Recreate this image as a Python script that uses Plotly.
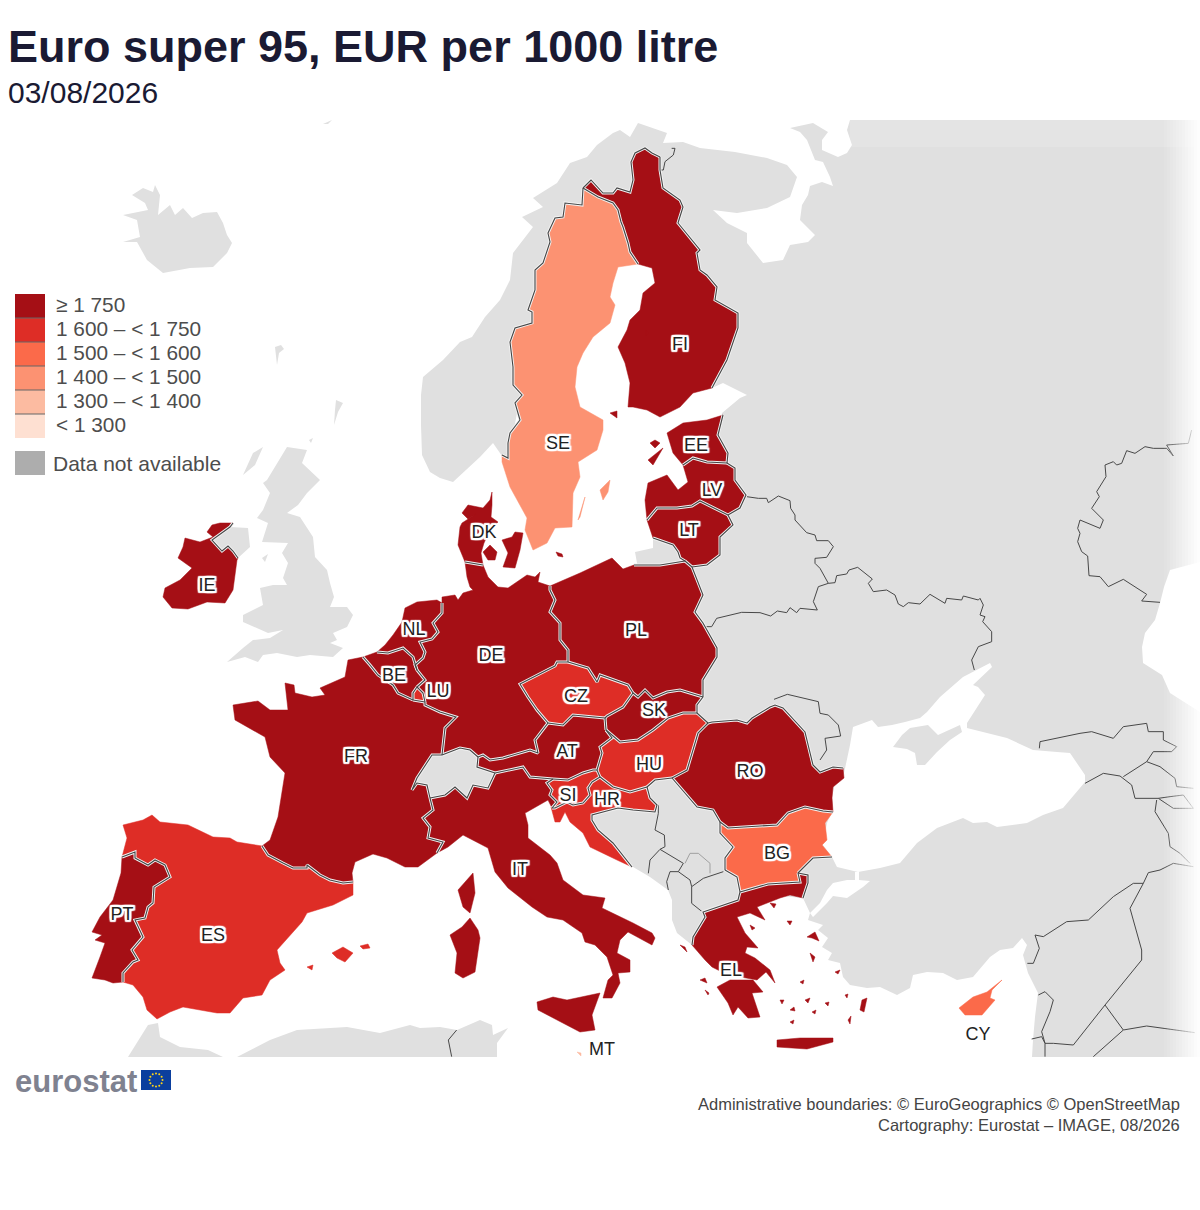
# Euro super 95 price map, drawn on plain axes because no basemap can be fetched here
import math
import plotly.graph_objects as go

# legend classes
CLASS_LABELS = ['≥ 1 750', '1 600 – < 1 750', '1 500 – < 1 600', '1 400 – < 1 500', '1 300 – < 1 400', '< 1 300']
CLASS_COLORS = ['#A50F15', '#DE2D26', '#FB6A4A', '#FC9272', '#FCBBA1', '#FEE0D2']
NO_DATA_LABEL = 'Data not available'

# price class of each country, index into CLASS_LABELS
COUNTRY_CLASS = {
    'FI': 0, 'SE': 3, 'EE': 0, 'LV': 0, 'LT': 0, 'PL': 0, 'DE': 0, 'DK': 0, 'NL': 0, 'BE': 0,
    'LU': 1, 'FR': 0, 'IE': 0, 'ES': 1, 'PT': 0, 'IT': 0, 'AT': 0, 'CZ': 1, 'SK': 0, 'HU': 1,
    'SI': 1, 'HR': 1, 'RO': 0, 'BG': 2, 'EL': 0, 'CY': 2, 'MT': 4,
}

# country code labels
LABEL_CODES = ['FI', 'SE', 'EE', 'LV', 'LT', 'DK', 'IE', 'NL', 'BE', 'LU', 'DE', 'PL', 'CZ', 'SK', 'FR', 'AT',
               'HU', 'RO', 'SI', 'HR', 'BG', 'IT', 'PT', 'ES', 'EL', 'CY', 'MT']
LABEL_X = [680, 558, 696, 712, 689, 484, 207, 414, 394, 438, 491, 636, 576, 654, 356, 567,
           649, 750, 568, 607, 777, 520, 122, 213, 731, 978, 602]
LABEL_Y = [345, 444, 446, 491, 531, 533, 586, 630, 676, 692, 656, 631, 697, 711, 757, 752,
           765, 772, 796, 800, 854, 870, 915, 936, 971, 1035, 1050]

B_SE_NO = [(502, 455), (508, 458), (508, 443), (510, 433), (520, 420), (515, 403), (522, 395), (513, 385), (513, 367),
           (510, 342), (515, 328), (532, 323), (532, 312), (528, 310), (535, 290), (535, 270), (543, 263), (550, 242),
           (548, 233), (555, 218), (563, 217), (565, 203), (582, 205), (583, 188)]
B_SE_FI = [(583, 188), (598, 197), (613, 203), (618, 210), (621, 222), (623, 227), (628, 243), (630, 252), (638, 264)]
B_FI_NO = [(583, 188), (591, 180), (603, 193), (613, 193), (617, 188), (630, 192), (633, 180), (631, 162), (635, 153),
           (645, 148), (652, 153), (660, 157)]
B_FI_RU = [(660, 157), (660, 170), (663, 188), (680, 200), (683, 207), (678, 223), (700, 250), (697, 253), (700, 270),
           (707, 275), (717, 287), (715, 300), (738, 313), (738, 328), (727, 360), (712, 388)]
B_EE_RU = [(723, 415), (718, 435), (728, 453), (727, 463)]
B_EE_LV = [(727, 463), (707, 462), (693, 458), (683, 465)]
B_LV_EAST = [(727, 463), (735, 468), (735, 480), (746, 495), (740, 508), (728, 515)]
B_LV_LT = [(728, 515), (722, 512), (700, 501), (692, 506), (677, 508), (657, 508), (647, 520)]
B_LT_BY = [(728, 515), (733, 525), (720, 537), (720, 555), (707, 565), (692, 567)]
B_LT_RU = [(653, 538), (673, 545), (678, 552), (680, 558), (685, 561)]
B_LT_PL = [(685, 561), (692, 567)]
B_PL_RU = [(634, 565), (660, 565), (685, 561)]
B_PL_EAST = [(692, 567), (703, 595), (695, 612), (703, 623), (717, 648), (717, 657), (703, 680), (703, 697)]
B_PL_SK = [(703, 697), (680, 690), (667, 692), (653, 698), (645, 690), (638, 697), (633, 693)]
B_PL_CZ = [(633, 693), (628, 685), (600, 675), (597, 682), (588, 668), (568, 662)]
B_DE_PL = [(550, 586), (550, 590), (555, 600), (550, 612), (560, 623), (560, 640), (568, 650), (568, 662)]
B_DE_CZ = [(568, 662), (557, 662), (555, 666), (525, 682), (520, 684), (528, 697), (537, 710), (548, 723)]
B_CZ_SK = [(633, 693), (623, 707), (607, 716), (605, 718)]
B_CZ_AT = [(605, 718), (573, 715), (563, 725), (548, 723)]
B_DE_AT = [(548, 723), (535, 740), (538, 753), (530, 750), (503, 758), (490, 760), (483, 755), (478, 757)]
B_DE_CH = [(478, 757), (470, 750), (460, 748), (450, 752), (442, 755)]
B_FR_DE = [(442, 755), (445, 728), (456, 717), (440, 712), (425, 705), (425, 702)]
B_FR_CH = [(442, 755), (432, 755), (417, 778), (412, 790), (417, 783), (427, 785), (430, 798)]
B_FR_IT = [(430, 798), (433, 810), (423, 818), (430, 827), (428, 838), (443, 842), (437, 853)]
B_IT_CH = [(430, 798), (445, 795), (455, 787), (467, 798), (473, 785), (488, 788), (495, 773)]
B_CH_AT = [(478, 757), (477, 767), (495, 773)]
B_IT_AT = [(495, 773), (523, 767), (530, 777), (553, 779)]
B_IT_SI = [(553, 779), (547, 783), (552, 790), (550, 795), (557, 802), (552, 808)]
B_AT_SI = [(553, 779), (568, 780), (583, 773), (593, 770), (597, 770)]
B_AT_HU = [(597, 770), (602, 753), (600, 747), (612, 738), (606, 730)]
B_AT_SK = [(606, 730), (605, 718)]
B_SK_HU = [(606, 730), (620, 742), (638, 740), (653, 730), (668, 718), (683, 713), (697, 713)]
B_SK_UA = [(697, 713), (697, 705), (703, 697)]
B_HU_UA = [(697, 713), (708, 723)]
B_HU_RO = [(708, 723), (698, 733), (687, 770), (672, 778)]
B_HU_RS = [(672, 778), (655, 780), (647, 787)]
B_HU_HR = [(647, 787), (630, 792), (613, 787), (600, 777)]
B_SI_HU = [(597, 770), (600, 777)]
B_SI_HR = [(600, 777), (592, 782), (588, 788), (590, 795), (583, 803), (573, 805), (567, 802), (555, 808), (552, 808)]
B_HR_BA = [(647, 787), (650, 798), (657, 805), (655, 812), (633, 810), (618, 808), (603, 812), (592, 815), (592, 820),
           (598, 830), (613, 843), (627, 860), (632, 867)]
B_RO_NORTH = [(708, 723), (712, 722), (737, 720), (747, 723), (752, 718), (770, 707), (775, 705), (783, 708), (805, 732),
              (813, 765), (820, 772), (833, 767), (843, 768)]
B_RO_RS = [(672, 778), (680, 787), (697, 807), (713, 810), (720, 822)]
B_RO_BG = [(720, 822), (728, 828), (777, 825), (788, 813), (805, 807), (823, 811), (833, 812)]
B_BG_RS = [(720, 822), (720, 833), (733, 847), (725, 858), (725, 870)]
B_BG_MK = [(725, 870), (737, 877), (740, 892)]
B_BG_EL = [(740, 892), (768, 884), (800, 882), (798, 873)]
B_BG_TR = [(798, 873), (813, 858), (832, 857)]
B_EL_TR = [(798, 873), (808, 875), (808, 883), (803, 898)]
B_EL_WEST = [(740, 892), (738, 900), (703, 912), (705, 917), (693, 937), (692, 945)]
B_IE_UK = [(238, 558), (233, 551), (228, 546), (222, 551), (212, 540), (230, 527), (233, 523)]
B_NL_DE = [(442, 603), (442, 613), (433, 623), (438, 632), (432, 639), (420, 642), (425, 652), (423, 658), (415, 665), (417, 670)]
B_NL_BE = [(377, 652), (388, 653), (403, 648), (413, 657), (417, 670)]
B_BE_DE = [(417, 670), (422, 677), (425, 680), (417, 687)]
B_BE_LU = [(417, 687), (413, 693), (413, 700)]
B_LU_FR = [(425, 702), (413, 700)]
B_LU_DE = [(425, 702), (423, 693), (417, 687)]
B_BE_FR = [(413, 700), (398, 693), (393, 685), (378, 675), (370, 665), (363, 657)]
B_DE_DK = [(465, 562), (483, 565)]
B_ES_FR = [(262, 846), (268, 855), (283, 863), (293, 868), (307, 868), (307, 865), (320, 875), (330, 880), (343, 883), (353, 882)]
B_ES_PT = [(123, 982), (123, 973), (133, 962), (138, 960), (132, 950), (143, 937), (135, 920), (145, 918), (148, 907),
           (153, 903), (154, 887), (170, 877), (165, 865), (155, 860), (148, 865), (135, 858), (135, 852), (122, 857)]

# coasts of the countries with data
SE_COAST = [(638, 264), (618, 267), (613, 283), (610, 297), (615, 305), (610, 323), (593, 337), (583, 353), (577, 367),
            (575, 387), (580, 407), (603, 420), (603, 430), (597, 450), (578, 462), (580, 477), (573, 493), (572, 527),
            (555, 528), (547, 543), (533, 550), (525, 530), (527, 518), (510, 487), (502, 462), (502, 455)]
FI_COAST = [(712, 388), (693, 393), (680, 407), (660, 417), (647, 410), (633, 407), (628, 407), (630, 383), (625, 363),
            (618, 347), (627, 330), (630, 320), (640, 310), (643, 293), (655, 283), (652, 268), (638, 264)]
EE_COAST = [(683, 465), (673, 453), (667, 433), (683, 423), (707, 420), (723, 415)]
LV_COAST = [(647, 520), (645, 500), (648, 483), (667, 475), (678, 490), (688, 482), (683, 465)]
LT_COAST = [(647, 520), (653, 538)]
PL_COAST = [(550, 586), (580, 573), (612, 558), (623, 569), (634, 565)]
DE_COAST_W = [(442, 603), (442, 597), (455, 595), (458, 600), (463, 593), (473, 590), (480, 597), (470, 587), (467, 577), (465, 562)]
DE_COAST_E = [(483, 565), (488, 577), (498, 587), (508, 588), (527, 575), (535, 577), (540, 572), (538, 582), (550, 586)]
NL_COAST = [(442, 603), (437, 600), (417, 602), (405, 608), (402, 622), (393, 635), (385, 645), (377, 652)]
BE_COAST = [(363, 657), (377, 652)]
FR_COAST_N = [(363, 657), (348, 660), (345, 677), (320, 688), (325, 695), (312, 697), (295, 693), (294, 685), (285, 683),
              (288, 710), (270, 710), (258, 701), (233, 705), (235, 720), (265, 737), (270, 757), (285, 773), (282, 793),
              (278, 817), (270, 840), (262, 846)]
FR_COAST_S = [(353, 882), (352, 873), (355, 862), (373, 854), (387, 858), (405, 867), (418, 867), (437, 853)]
ES_COAST_N = [(122, 857), (127, 838), (123, 825), (143, 820), (152, 815), (160, 822), (188, 825), (213, 837), (230, 838),
              (237, 842), (262, 846)]
ES_COAST_S = [(353, 882), (353, 895), (333, 905), (307, 913), (302, 922), (277, 950), (280, 963), (285, 970), (270, 980),
              (262, 995), (243, 998), (230, 1013), (217, 1013), (183, 1007), (170, 1012), (157, 1019), (147, 1010),
              (143, 997), (133, 985), (123, 982)]
PT_COAST = [(122, 857), (121, 873), (113, 900), (100, 917), (92, 932), (102, 935), (95, 940), (105, 943), (100, 957),
            (92, 978), (105, 980), (113, 983), (123, 982)]
IT_COAST = [(552, 808), (548, 800), (527, 812), (525, 813), (528, 825), (528, 838), (550, 855), (557, 863), (563, 880),
            (583, 895), (605, 898), (602, 908), (633, 923), (652, 933), (655, 938), (652, 945), (628, 932), (620, 940),
            (617, 953), (630, 960), (630, 972), (618, 973), (620, 983), (612, 998), (603, 998), (608, 980), (613, 975),
            (607, 957), (595, 945), (585, 942), (582, 933), (563, 920), (547, 917), (532, 907), (508, 888), (495, 872),
            (488, 848), (463, 835), (448, 847), (437, 853)]
HR_COAST = [(632, 867), (617, 860), (603, 853), (590, 847), (583, 833), (570, 822), (565, 812), (560, 822), (555, 822),
            (551, 807), (552, 808)]
RO_COAST = [(843, 768), (844, 778), (833, 787), (832, 798), (833, 812)]
BG_COAST = [(833, 812), (825, 823), (827, 840), (822, 845), (832, 857)]
EL_COAST = [(803, 898), (790, 895), (780, 898), (757, 907), (765, 920), (750, 913), (737, 917), (745, 933), (758, 948),
            (747, 947), (745, 953), (755, 958), (770, 970), (775, 983), (766, 972), (757, 980), (730, 975), (722, 972),
            (712, 967), (705, 960), (692, 945)]
IE_COAST = [(233, 523), (220, 523), (212, 525), (207, 532), (213, 537), (200, 542), (185, 538), (183, 547), (178, 558),
            (192, 568), (180, 580), (165, 588), (163, 597), (172, 608), (188, 609), (207, 602), (225, 603), (233, 590),
            (237, 560), (238, 558)]

# polygons that belong to one country only
PELOPONNESE = [(717, 987), (730, 980), (753, 980), (763, 992), (752, 993), (760, 1017), (748, 1018), (738, 1007), (733, 1015), (728, 1003)]
GREEK_ISLANDS = [
    [(777, 1040), (800, 1038), (822, 1038), (833, 1038), (833, 1042), (807, 1049), (777, 1047)],
    [(807, 937), (815, 932), (819, 941), (812, 938)], [(810, 953), (815, 957), (813, 962)],
    [(862, 1000), (867, 998), (864, 1012), (860, 1010)], [(700, 980), (705, 978), (707, 983)],
    [(705, 990), (709, 993), (708, 995)], [(680, 945), (685, 947), (687, 952)], [(770, 903), (776, 904), (774, 908)],
    [(787, 921), (792, 921), (790, 925)], [(750, 925), (755, 928), (752, 930)], [(790, 1010), (794, 1007), (795, 1011)],
    [(805, 1000), (810, 998), (808, 1003)], [(825, 1003), (829, 1002), (828, 1006)], [(780, 1000), (784, 1000), (782, 1004)],
    [(800, 982), (804, 980), (803, 984)], [(835, 972), (840, 970), (838, 974)], [(845, 995), (848, 994), (847, 998)],
    [(790, 1022), (794, 1020), (793, 1024)], [(812, 1012), (816, 1010), (815, 1014)], [(848, 1020), (851, 1016), (850, 1024)],
]
DK_ISLANDS = [
    [(483, 552), (490, 545), (497, 552), (495, 560), (488, 560)],
    [(502, 540), (512, 537), (515, 532), (523, 533), (520, 550), (515, 568), (503, 567), (508, 553)],
    [(556, 552), (562, 554), (563, 557), (558, 556)],
]
DK_JUTLAND = [(492, 492), (490, 500), (483, 508), (475, 506), (468, 505), (462, 513), (468, 519), (476, 514), (462, 523),
              (460, 527), (458, 545), (465, 562), (483, 565), (481, 553), (484, 543), (490, 530), (498, 522), (491, 517), (492, 505)]
SE_ISLANDS = [[(600, 490), (610, 480), (608, 492), (603, 500)], [(578, 520), (585, 497), (580, 517)]]
FI_ISLANDS = [[(610, 413), (617, 411), (617, 418)], [(646, 330), (649, 333), (646, 336)]]
EE_ISLANDS = [[(648, 460), (663, 448), (653, 465)], [(650, 443), (655, 440), (660, 443), (655, 448)]]
ES_ISLANDS = [[(332, 953), (343, 947), (353, 953), (345, 962), (337, 958)], [(360, 946), (368, 944), (370, 948), (363, 949)],
              [(307, 967), (313, 965), (312, 970)]]
IT_ISLANDS = [
    [(537, 1002), (553, 997), (567, 1000), (600, 993), (592, 1015), (595, 1030), (580, 1032), (553, 1018), (538, 1010)],
    [(470, 918), (478, 930), (480, 938), (475, 972), (463, 978), (455, 973), (457, 953), (450, 935), (462, 927)],
    [(530, 900), (535, 901), (533, 904)],
]
CORSICA = [(473, 873), (475, 893), (470, 913), (463, 907), (458, 890), (465, 882)]
CY_SHAPE = [(1002, 980), (992, 990), (990, 998), (995, 1000), (982, 1015), (965, 1015), (959, 1008), (973, 997), (987, 992)]
MT_SHAPE = [(577, 1052), (581, 1053), (581, 1056)]

# countries outside the data: grey land
LAND_MAIN = [
    # Norway, Kola and the White Sea
    (440, 478), (430, 472), (422, 455), (421, 425), (421, 395), (423, 377), (443, 360), (460, 342), (472, 337), (485, 317),
    (500, 300), (510, 280), (513, 253), (533, 227), (522, 217), (543, 207), (533, 198), (557, 183), (570, 163), (587, 157),
    (597, 145), (613, 133), (620, 130), (630, 137), (638, 123), (653, 128), (667, 133), (663, 143), (683, 142), (700, 148),
    (735, 152), (767, 158), (787, 165), (797, 177), (790, 197), (767, 208), (737, 213), (713, 210), (727, 223), (747, 233),
    (747, 243), (763, 263), (783, 260), (790, 245), (808, 242), (815, 235), (800, 220), (802, 205), (808, 195), (810, 186),
    (822, 182), (833, 186), (830, 177), (823, 162), (815, 160), (807, 140), (800, 132), (790, 128), (813, 123), (828, 132),
    (822, 140), (822, 150), (838, 157), (847, 153), (852, 145), (847, 130), (850, 120),
    # east side with the Caspian
    (1200, 120), (1200, 562), (1170, 570), (1164, 587), (1160, 603), (1155, 620), (1145, 633), (1142, 647), (1143, 663),
    (1162, 675), (1170, 693), (1200, 712), (1200, 1057), (1032, 1057),
    # Levant and Turkey
    (1033, 1040), (1035, 1017), (1038, 993), (1028, 973), (1023, 955), (1027, 945), (1022, 938), (1013, 948), (1000, 950),
    (990, 957), (973, 977), (957, 980), (943, 973), (927, 972), (913, 975), (910, 988), (897, 995), (880, 987), (867, 988),
    (862, 987), (850, 985), (843, 977), (840, 963), (828, 960), (832, 953), (822, 947), (828, 938), (818, 930), (823, 925),
    (808, 920), (810, 913), (803, 898),
    # inside Greece, then the Albanian and Montenegrin coast
    (770, 895), (710, 930), (692, 945), (677, 933), (672, 920), (672, 900), (668, 890), (650, 877), (633, 867),
    # inside the member states, so covered by them
    (628, 864), (612, 852), (598, 842), (590, 830), (588, 815), (600, 800), (650, 760), (680, 680), (650, 600),
    (637, 563), (635, 552), (653, 548), (653, 538), (660, 530), (700, 530), (725, 490), (715, 450), (722, 413),
    (740, 398), (747, 395), (723, 383), (712, 388), (700, 380), (700, 320), (640, 190), (600, 200), (540, 300),
    (508, 458), (502, 456), (493, 443), (480, 457), (453, 482),
]
SEA_BLACK = [(843, 778), (850, 745), (853, 727), (872, 720), (878, 727), (892, 725), (905, 722), (920, 718), (927, 712),
             (940, 697), (963, 677), (990, 663), (992, 667), (973, 685), (978, 687), (985, 695), (967, 723), (967, 728),
             (1007, 738), (1033, 750), (1057, 752), (1070, 753), (1085, 775), (1085, 782), (1063, 808), (1043, 815),
             (1027, 823), (997, 827), (987, 822), (973, 823), (963, 818), (937, 828), (917, 843), (900, 863), (880, 868),
             (858, 872), (837, 867), (832, 857), (823, 845), (827, 823), (833, 810), (832, 797), (835, 783)]
SEA_MARMARA = [(855, 872), (859, 872), (859, 880), (870, 881), (863, 887), (857, 891), (847, 898), (833, 896), (827, 903),
               (813, 917), (810, 913), (820, 903), (827, 890), (833, 883), (847, 880), (855, 880)]
CRIMEA = [(893, 747), (907, 749), (915, 753), (917, 765), (925, 765), (937, 752), (950, 740), (962, 732), (960, 725),
          (938, 735), (928, 725), (910, 728), (902, 735)]
ICELAND = [(132, 195), (143, 188), (153, 192), (155, 185), (160, 195), (158, 215), (170, 205), (175, 215), (183, 208),
           (192, 218), (203, 213), (217, 212), (223, 223), (227, 235), (232, 243), (227, 253), (213, 267), (190, 268),
           (163, 273), (147, 260), (137, 242), (123, 242), (140, 237), (137, 220), (123, 215), (148, 210), (145, 203)]
BRITAIN = [(267, 480), (287, 447), (307, 450), (302, 463), (320, 480), (307, 493), (298, 505), (287, 513), (300, 517),
           (313, 537), (315, 557), (327, 570), (330, 583), (334, 597), (330, 607), (347, 607), (353, 615), (347, 627),
           (333, 633), (337, 640), (330, 643), (343, 648), (333, 657), (310, 655), (297, 657), (277, 653), (263, 655),
           (258, 662), (245, 657), (227, 662), (243, 648), (253, 640), (270, 638), (283, 630), (268, 633), (243, 622),
           (243, 615), (263, 605), (260, 588), (273, 585), (287, 585), (283, 578), (288, 563), (282, 553), (288, 543),
           (262, 542), (268, 523), (257, 518), (263, 510), (270, 493), (263, 483)]
NORTHERN_IRELAND = [(230, 527), (248, 528), (250, 547), (238, 558), (233, 551), (228, 546), (222, 551), (212, 540)]
SMALL_LAND = [
    [(275, 347), (281, 345), (284, 349), (279, 353), (277, 365)], [(336, 400), (343, 403), (338, 412), (334, 425), (335, 410)],
    [(253, 453), (263, 447), (255, 465), (243, 475)], [(323, 124), (332, 120), (328, 124)], [(262, 558), (268, 554), (265, 562)],
    [(320, 873), (328, 873), (327, 878), (321, 877)], [(309, 440), (313, 438), (311, 443)],
]
AFRICA_W = [(128, 1057), (148, 1025), (158, 1023), (160, 1037), (180, 1047), (208, 1050), (223, 1057)]
AFRICA_E = [(237, 1057), (270, 1040), (297, 1030), (347, 1027), (380, 1033), (410, 1025), (420, 1028), (440, 1027), (457, 1030),
            (480, 1020), (492, 1025), (493, 1035), (508, 1028), (497, 1043), (497, 1057)]

# borders between countries without data, as traced from 3x crops: (crop x, crop y, points)
OUTSIDE_LINES = [
    (400, 120, [(780, 150), (790, 150), (795, 125), (820, 105), (825, 85), (815, 85)]),
    (700, 430, [(140, 200), (175, 205), (200, 205), (205, 218), (235, 198), (270, 212), (272, 235), (285, 255), (285, 270), (320, 308),
                (345, 315), (350, 332), (385, 332), (400, 350), (380, 382), (345, 385), (345, 400), (360, 415), (385, 460)]),
    (700, 430, [(385, 460), (405, 458), (410, 437), (440, 432), (447, 420), (473, 412), (517, 447), (505, 460), (520, 485), (560, 480),
                (585, 495), (595, 522), (610, 530), (625, 518), (660, 522), (690, 493), (735, 520), (740, 505), (785, 510), (790, 498),
                (835, 510), (840, 505), (850, 525), (840, 555), (855, 560), (848, 575), (875, 605), (875, 635), (835, 650), (815, 690), (823, 720)]),
    (700, 430, [(385, 460), (355, 470), (340, 515), (352, 540), (300, 535), (290, 548), (270, 533), (260, 548), (232, 543), (212, 558),
                (180, 548), (125, 547), (50, 565), (35, 590), (15, 590)]),
    (700, 430, [(1475, 0), (1465, 40), (1400, 45), (1420, 78), (1400, 55), (1360, 55), (1335, 50), (1305, 70), (1280, 62), (1265, 100),
                (1250, 105), (1240, 95), (1215, 105), (1218, 140), (1190, 185), (1198, 200), (1175, 235), (1210, 270), (1200, 295), (1140, 270),
                (1133, 295), (1140, 310), (1133, 335), (1145, 365), (1163, 378), (1167, 437), (1200, 440), (1225, 470), (1270, 448), (1340, 493),
                (1325, 513), (1380, 517)]),
    (700, 430, [(222, 808), (262, 793), (355, 815), (360, 850), (385, 855), (415, 885), (422, 918), (375, 925), (380, 960), (360, 990)]),
    (680, 690, [(1078, 175), (1080, 155), (1200, 130), (1235, 125), (1300, 145), (1330, 110), (1400, 100), (1405, 125), (1450, 125), (1450, 150),
                (1490, 170), (1475, 185), (1420, 185), (1400, 215), (1330, 260)]),
    (680, 690, [(1215, 280), (1270, 250), (1320, 258), (1355, 285), (1365, 325), (1435, 325)]),
    (680, 690, [(1400, 215), (1440, 230), (1485, 265), (1490, 290), (1540, 295)]),
    (680, 690, [(1435, 325), (1480, 355), (1540, 355), (1510, 315), (1470, 320), (1435, 325)]),
    (680, 690, [(1430, 330), (1425, 365), (1465, 430), (1470, 470), (1500, 490), (1530, 520)]),
    (680, 690, [(1540, 530), (1480, 520), (1440, 540), (1405, 548), (1390, 580), (1360, 580), (1300, 620), (1225, 690), (1160, 695), (1090, 740),
                (1065, 735), (1078, 775), (1060, 820), (1042, 820)]),
    (680, 690, [(1390, 580), (1350, 655), (1385, 780), (1385, 810), (1275, 945), (1180, 1065), (1120, 1060), (1095, 1060), (1085, 1025), (1110, 965),
                (1120, 930), (1095, 905), (1075, 915)]),
    (680, 690, [(1275, 945), (1330, 1020), (1400, 1008), (1545, 1028)]),
    (680, 690, [(1330, 1020), (1240, 1100)]),
    (680, 690, [(1055, 1047), (1085, 1040), (1095, 1060), (1095, 1100)]),
    (420, 690, [(680, 295), (695, 340), (715, 345), (715, 370), (705, 420), (733, 435), (735, 470), (720, 478)]),
    (420, 690, [(720, 478), (690, 510), (685, 550)]),
    (420, 690, [(720, 478), (790, 520), (775, 545), (750, 545), (740, 575), (745, 600)]),
    (420, 690, [(775, 545), (810, 570), (815, 590), (850, 565), (910, 545)]),
    (420, 690, [(815, 590), (815, 640), (850, 668)]),
    (420, 690, [(110, 1020), (85, 1050), (95, 1100)]),
]
KOSOVO_LINE = (420, 690, [(795, 520), (810, 490), (835, 490), (870, 520), (870, 550)])


def rev(seg):
    return seg[::-1]


def flat(polys):
    xs, ys = [], []
    for poly in polys:
        xs += [p[0] for p in poly] + [poly[0][0], None]
        ys += [p[1] for p in poly] + [poly[0][1], None]
    return xs, ys


def from_crop(item):
    ox, oy, pts = item
    return [(ox + p[0] / 3, oy + p[1] / 3) for p in pts]


SWITZERLAND = B_FR_CH + B_IT_CH + rev(B_CH_AT) + rev(B_DE_CH)

COUNTRY_SHAPES = {
    'FI': [B_FI_NO + B_FI_RU + FI_COAST + rev(B_SE_FI)] + FI_ISLANDS,
    'SE': [B_SE_FI + SE_COAST + B_SE_NO] + SE_ISLANDS,
    'EE': [EE_COAST + B_EE_RU + B_EE_LV] + EE_ISLANDS,
    'LV': [LV_COAST + rev(B_EE_LV) + B_LV_EAST + B_LV_LT],
    'LT': [LT_COAST + B_LT_RU + B_LT_PL + rev(B_LT_BY) + B_LV_LT],
    'PL': [PL_COAST + B_PL_RU + B_LT_PL + B_PL_EAST + B_PL_SK + B_PL_CZ + rev(B_DE_PL)],
    'DE': [DE_COAST_W + B_DE_DK + DE_COAST_E + B_DE_PL + B_DE_CZ + B_DE_AT + B_DE_CH + B_FR_DE + B_LU_DE + rev(B_BE_DE) + rev(B_NL_DE)],
    'DK': [DK_JUTLAND] + DK_ISLANDS,
    'NL': [NL_COAST + B_NL_BE + rev(B_NL_DE)],
    'BE': [BE_COAST + B_NL_BE + B_BE_DE + B_BE_LU + B_BE_FR],
    'LU': [B_BE_LU + rev(B_LU_FR) + B_LU_DE],
    'FR': [FR_COAST_N + B_ES_FR + FR_COAST_S + rev(B_FR_IT) + rev(B_FR_CH) + B_FR_DE + B_LU_FR + B_BE_FR, CORSICA],
    'IE': [IE_COAST + B_IE_UK],
    'ES': [ES_COAST_N + B_ES_FR + ES_COAST_S + B_ES_PT] + ES_ISLANDS,
    'PT': [PT_COAST + B_ES_PT],
    'IT': [rev(B_FR_IT) + B_IT_CH + B_IT_AT + B_IT_SI + IT_COAST] + IT_ISLANDS,
    'AT': [B_DE_AT + B_CH_AT + B_IT_AT + B_AT_SI + B_AT_HU + B_AT_SK + B_CZ_AT],
    'CZ': [B_DE_CZ + rev(B_CZ_AT) + rev(B_CZ_SK) + B_PL_CZ],
    'SK': [B_CZ_SK + rev(B_AT_SK) + B_SK_HU + B_SK_UA + B_PL_SK],
    'HU': [B_SK_HU + B_HU_UA + B_HU_RO + B_HU_RS + B_HU_HR + rev(B_SI_HU) + B_AT_HU],
    'SI': [B_AT_SI + B_SI_HU + B_SI_HR + rev(B_IT_SI)],
    'HR': [rev(B_HU_HR) + B_HR_BA + HR_COAST + rev(B_SI_HR)],
    'RO': [B_RO_NORTH + RO_COAST + rev(B_RO_BG) + rev(B_RO_RS) + rev(B_HU_RO)],
    'BG': [B_RO_BG + BG_COAST + rev(B_BG_TR) + rev(B_BG_EL) + rev(B_BG_MK) + rev(B_BG_RS)],
    'EL': [B_BG_EL + B_EL_TR + EL_COAST + rev(B_EL_WEST), PELOPONNESE] + GREEK_ISLANDS,
    'CY': [CY_SHAPE],
    'MT': [MT_SHAPE],
}
MEMBER_BORDERS = [
    B_SE_NO, B_SE_FI, B_FI_NO, B_FI_RU, B_EE_RU, B_EE_LV, B_LV_EAST, B_LV_LT, B_LT_BY, B_LT_RU, B_LT_PL, B_PL_RU,
    B_PL_EAST, B_PL_SK, B_PL_CZ, B_DE_PL, B_DE_CZ, B_CZ_SK, B_CZ_AT, B_DE_AT, B_DE_CH, B_FR_DE, B_FR_CH, B_FR_IT,
    B_IT_CH, B_CH_AT, B_IT_AT, B_IT_SI, B_AT_SI, B_AT_HU, B_AT_SK, B_SK_HU, B_SK_UA, B_HU_UA, B_HU_RO, B_HU_RS,
    B_HU_HR, B_SI_HU, B_SI_HR, B_HR_BA, B_RO_NORTH, B_RO_RS, B_RO_BG, B_BG_RS, B_BG_MK, B_BG_EL, B_BG_TR, B_EL_TR,
    B_EL_WEST, B_IE_UK, B_NL_DE, B_NL_BE, B_BE_DE, B_BE_LU, B_LU_FR, B_LU_DE, B_BE_FR, B_DE_DK, B_ES_FR, B_ES_PT,
]

fig = go.Figure()

LAND = '#E0E0E0'
xs, ys = flat([LAND_MAIN])
fig.add_trace(go.Scatter(x=xs, y=ys, mode='lines', fill='toself', fillcolor=LAND, line=dict(width=0), hoverinfo='skip'))
xs, ys = flat([SEA_BLACK, SEA_MARMARA])
fig.add_trace(go.Scatter(x=xs, y=ys, mode='lines', fill='toself', fillcolor='white', line=dict(width=0), hoverinfo='skip'))
xs, ys = flat([CRIMEA, ICELAND, BRITAIN, NORTHERN_IRELAND, AFRICA_W, AFRICA_E, SWITZERLAND] + SMALL_LAND)
fig.add_trace(go.Scatter(x=xs, y=ys, mode='lines', fill='toself', fillcolor=LAND, line=dict(width=0), hoverinfo='skip'))

# grey lines first so that member states sit on top of them
xs, ys = [], []
for item in OUTSIDE_LINES:
    pts = from_crop(item)
    xs += [p[0] for p in pts] + [None]
    ys += [p[1] for p in pts] + [None]
fig.add_trace(go.Scatter(x=xs, y=ys, mode='lines', line=dict(color='#484848', width=1), hoverinfo='skip'))
pts = from_crop(KOSOVO_LINE)
fig.add_trace(go.Scatter(x=[p[0] for p in pts], y=[p[1] for p in pts], mode='lines',
                         line=dict(color='#A0A0A0', width=1), hoverinfo='skip'))

for code, polys in COUNTRY_SHAPES.items():
    color = CLASS_COLORS[COUNTRY_CLASS[code]]
    xs, ys = flat(polys)
    fig.add_trace(go.Scatter(x=xs, y=ys, mode='lines', fill='toself', fillcolor=color, name=code,
                             line=dict(color=color, width=0.5), hoverinfo='name'))

xs, ys = [], []
for seg in MEMBER_BORDERS:
    xs += [p[0] for p in seg] + [None]
    ys += [p[1] for p in seg] + [None]
fig.add_trace(go.Scatter(x=xs, y=ys, mode='lines', line=dict(color='#F2F2F2', width=3), hoverinfo='skip'))
fig.add_trace(go.Scatter(x=xs, y=ys, mode='lines', line=dict(color='#454545', width=1.1), hoverinfo='skip'))

# country codes with a white halo
halo = ','.join(f'{dx}px {dy}px 1px #fff' for dx in (-2, -1, 0, 1, 2) for dy in (-2, -1, 0, 1, 2))
fig.add_trace(go.Scatter(x=LABEL_X, y=LABEL_Y, text=LABEL_CODES, mode='text', textposition='middle center',
                         textfont=dict(family='Liberation Sans', size=18, color='#222222', shadow=halo), hoverinfo='skip'))

shapes = []
# lighter strip along the top of the map
shapes.append(dict(type='rect', x0=850, x1=1200, y0=120, y1=147, fillcolor='white', opacity=0.13, line_width=0))
# fade at the right edge of the map
for i in range(12):
    shapes.append(dict(type='rect', x0=1164 + 3 * i, x1=1167 + 3 * i, y0=120, y1=1057, fillcolor='white',
                       opacity=(i + 1) / 13, line_width=0))

annotations = []


def note(x, y, text, size, color, anchor='left', bold=False):
    annotations.append(dict(x=x, y=y, text=f'<b>{text}</b>' if bold else text, showarrow=False, xanchor=anchor,
                            yanchor='middle', font=dict(family='Liberation Sans', size=size, color=color)))


note(6, 46, 'Euro super 95, EUR per 1000 litre', 45, '#1A1A33', bold=True)
note(6, 92.5, '03/08/2026', 30, '#1A1A33')

# legend
for i, label in enumerate(CLASS_LABELS):
    shapes.append(dict(type='rect', x0=15, x1=45, y0=294 + 24 * i, y1=318 + 24 * i, fillcolor=CLASS_COLORS[i], line_width=0))
    if i:
        shapes.append(dict(type='line', x0=15, x1=45, y0=294 + 24 * i, y1=294 + 24 * i, line=dict(color='#666666', width=1)))
    note(54, 304 + 24 * i, label, 20.8, '#4D4D4D')
shapes.append(dict(type='rect', x0=15, x1=45, y0=451, y1=475, fillcolor='#ADADAD', line_width=0))
note(51, 463, NO_DATA_LABEL, 21, '#4D4D4D')

# logo and source lines
note(13, 1081, 'eurostat', 31, '#7F8290', bold=True)
shapes.append(dict(type='rect', x0=141, x1=171, y0=1070, y1=1090, fillcolor='#0B3F9E', line_width=0, layer='below'))
star_x = [156 + 6.5 * math.cos(math.radians(30 * i)) for i in range(12)]
star_y = [1080 + 6.5 * math.sin(math.radians(30 * i)) for i in range(12)]
note(1182, 1104, 'Administrative boundaries: © EuroGeographics © OpenStreetMap', 16.5, '#444444', anchor='right')
note(1182, 1125, 'Cartography: Eurostat – IMAGE, 08/2026', 16.5, '#444444', anchor='right')

fig.update_layout(
    width=1200, height=1210, margin=dict(l=0, r=0, t=0, b=0), showlegend=False,
    paper_bgcolor='white', plot_bgcolor='white', shapes=shapes, annotations=annotations,
    xaxis=dict(range=[0, 1200], visible=False, fixedrange=True),
    yaxis=dict(range=[1210, 0], visible=False, fixedrange=True),
)
fig.add_trace(go.Scatter(x=star_x, y=star_y, mode='markers', marker=dict(color='#FFD617', size=2), hoverinfo='skip'))
fig.write_html("out.html", config=dict(displayModeBar=False), post_script="document.body.style.margin='0';")
